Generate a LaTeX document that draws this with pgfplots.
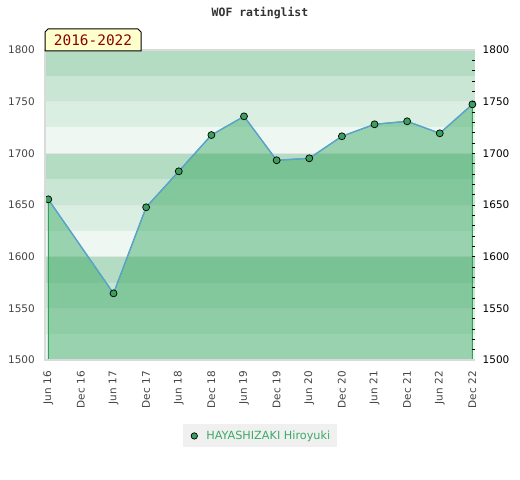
\documentclass[border=0pt]{standalone}
\usepackage{fontspec}
\setmainfont{DejaVu Sans}
\newfontfamily\monofont{DejaVu Sans Mono}
\usepackage{pgfplots}
\pgfplotsset{compat=1.18}
\definecolor{sA}{HTML}{B3DCC2}
\definecolor{sB}{HTML}{C8E6D3}
\definecolor{sC}{HTML}{DBEEE2}
\definecolor{sD}{HTML}{EEF7F1}
\definecolor{areagreen}{HTML}{2DA359}
\definecolor{lineblue}{HTML}{5DA2D5}
\definecolor{markgreen}{HTML}{3C9F5E}
\definecolor{legendgreen}{HTML}{3DAA66}
\definecolor{legendbg}{HTML}{F0F0F0}
\definecolor{tickgray}{HTML}{444444}
\definecolor{framegray}{HTML}{DADADA}
\definecolor{gridc}{HTML}{E4E4E4}
\definecolor{labelbg}{HTML}{FFFFCC}
\definecolor{labelred}{HTML}{8B0000}
\definecolor{titlegray}{HTML}{333333}
\begin{document}
\begin{tikzpicture}
\useasboundingbox (-45bp,-120bp) rectangle (475bp,360bp);
\begin{axis}[name=ax, at={(0,0)}, anchor=south west,
  scale only axis, width=430bp, height=310bp,
  xmin=-0.1, xmax=13.08, ymin=1500, ymax=1800,
  axis line style={draw=none},
  xtick={0,...,13},
  xticklabels={Jun 16,Dec 16,Jun 17,Dec 17,Jun 18,Dec 18,Jun 19,Dec 19,Jun 20,Dec 20,Jun 21,Dec 21,Jun 22,Dec 22},
  ytick={1500,1550,...,1800},
  major tick length=0pt, tick style={draw=none},
  xticklabel style={rotate=90, anchor=east, inner xsep=11bp, font=\fontsize{10.5}{12}\selectfont, text=tickgray},
  yticklabel style={anchor=east, inner xsep=10bp, font=\fontsize{10.5}{12}\selectfont, text=tickgray},
  /pgf/number format/assume math mode=true,
  /pgf/number format/1000 sep={},
  legend style={at={(0.5,-0.245)}, anchor=center, fill=legendbg, draw=none,
    font=\fontsize{11.3}{13}\selectfont, text=legendgreen,
    inner xsep=5bp, inner ysep=4.5bp},
  legend image code/.code={\path[draw=none,fill=none] (-6.5bp,-3bp) rectangle (10bp,3bp);
    \draw[fill=markgreen,draw=black,line width=0.7bp] (0bp,0bp) circle (3.2bp);},
]
% background bands
\fill[sA] (axis cs:-0.1,1775) rectangle (axis cs:13.08,1800);
\fill[sB] (axis cs:-0.1,1750) rectangle (axis cs:13.08,1775);
\fill[sC] (axis cs:-0.1,1725) rectangle (axis cs:13.08,1750);
\fill[sD] (axis cs:-0.1,1700) rectangle (axis cs:13.08,1725);
\fill[sA] (axis cs:-0.1,1675) rectangle (axis cs:13.08,1700);
\fill[sB] (axis cs:-0.1,1650) rectangle (axis cs:13.08,1675);
\fill[sC] (axis cs:-0.1,1625) rectangle (axis cs:13.08,1650);
\fill[sD] (axis cs:-0.1,1600) rectangle (axis cs:13.08,1625);
\fill[sA] (axis cs:-0.1,1575) rectangle (axis cs:13.08,1600);
\fill[sB] (axis cs:-0.1,1550) rectangle (axis cs:13.08,1575);
\fill[sC] (axis cs:-0.1,1525) rectangle (axis cs:13.08,1550);
\fill[sD] (axis cs:-0.1,1500) rectangle (axis cs:13.08,1525);
\draw[gridc, line width=0.8bp] (axis cs:-0.1,1550) -- (axis cs:13.08,1550);
\draw[gridc, line width=0.8bp] (axis cs:-0.1,1600) -- (axis cs:13.08,1600);
\draw[gridc, line width=0.8bp] (axis cs:-0.1,1650) -- (axis cs:13.08,1650);
\draw[gridc, line width=0.8bp] (axis cs:-0.1,1700) -- (axis cs:13.08,1700);
\draw[gridc, line width=0.8bp] (axis cs:-0.1,1750) -- (axis cs:13.08,1750);
% area
\addplot[forget plot, draw=areagreen, line width=1bp, fill=areagreen, fill opacity=0.44]
  coordinates {(0,1655.5) (2,1564.5) (3,1647.8) (4,1682.6) (5,1717.7) (6,1735.8) (7,1693.3) (8,1695.2) (9,1716.5) (10,1728.1) (11,1731) (12,1719.4) (13,1747.4)} \closedcycle;
% line with markers
\addplot[forget plot, color=lineblue, line width=1.3bp, mark=*, mark size=3.5bp,
  mark options={fill=markgreen, draw=black, line width=0.7bp, solid}]
  coordinates {(0,1655.5) (2,1564.5) (3,1647.8) (4,1682.6) (5,1717.7) (6,1735.8) (7,1693.3) (8,1695.2) (9,1716.5) (10,1728.1) (11,1731) (12,1719.4) (13,1747.4)};
\addlegendimage{only marks, mark=*, mark options={fill=markgreen, draw=black}}
\addlegendentry{HAYASHIZAKI Hiroyuki}
\end{axis}
\begin{axis}[at={(0,0)}, anchor=south west,
  scale only axis, width=430bp, height=310bp,
  xmin=-0.1, xmax=13.08, ymin=1500, ymax=1800,
  axis x line=none, axis y line*=right,
  y axis line style={draw=none},
  ytick={1500,1550,...,1800},
  minor ytick={1510,1520,...,1790},
  major tick length=3bp, minor tick length=3bp,
  tick style={draw=black, line width=0.8bp},
  tick align=inside,
  yticklabel style={anchor=west, inner xsep=7.5bp, font=\fontsize{10.5}{12}\selectfont, text=black},
  /pgf/number format/assume math mode=true,
  /pgf/number format/1000 sep={},
]
\addplot[draw=none] coordinates {(0,1500)};
\end{axis}
\draw[framegray, line width=1.5bp] (ax.north east) -- (ax.north west) -- (ax.south west) -- (ax.south east);
\filldraw[fill=labelbg, draw=black, line width=1bp] (0,309bp) -- (0,328bp) -- (3bp,331bp) -- (93bp,331bp) -- (96bp,328bp) -- (96bp,309bp) -- cycle;
\node[text=labelred, font=\monofont\fontsize{14.5}{16}\selectfont] at (48bp,319.5bp) {2016-2022};
\node[font=\monofont\bfseries\fontsize{11.5}{13}\selectfont, text=titlegray] at (215bp,347bp) {WOF ratinglist};
\end{tikzpicture}
\end{document}
